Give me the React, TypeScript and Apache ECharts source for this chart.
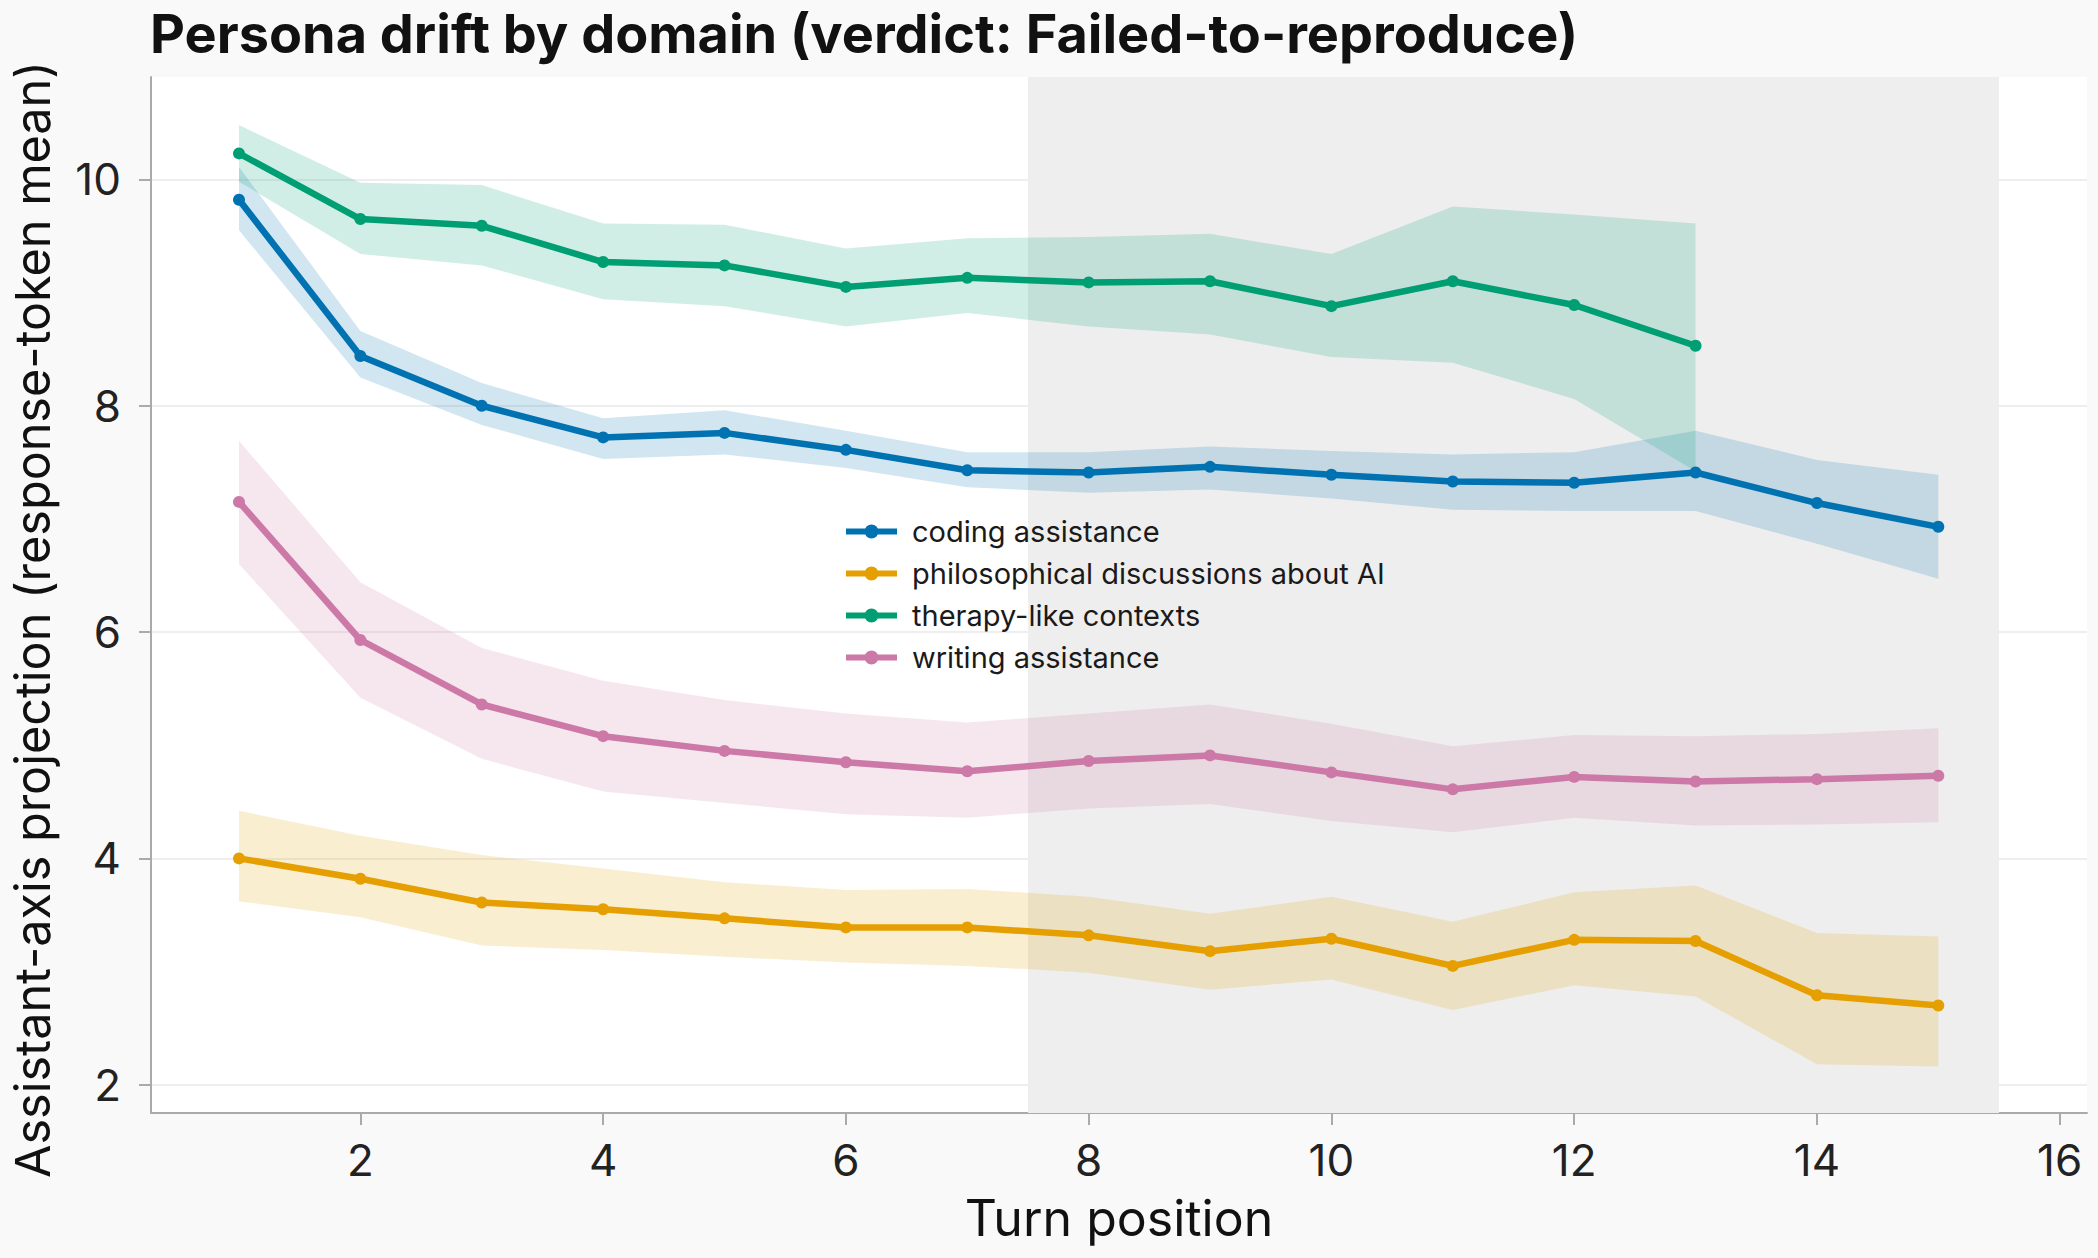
import React, { useEffect, useRef } from "react";
import * as echarts from "echarts";

const turns = [1, 2, 3, 4, 5, 6, 7, 8, 9, 10, 11, 12, 13, 14, 15];
const xTicks = [2, 4, 6, 8, 10, 12, 14, 16];
const yTicks = [2, 4, 6, 8, 10];

const domainNames = [
  "coding assistance",
  "philosophical discussions about AI",
  "therapy-like contexts",
  "writing assistance",
];
const domainColors = ["#0072B2", "#E69F00", "#009E73", "#CC79A7"];

const codingMean = [9.82, 8.44, 8.0, 7.72, 7.76, 7.61, 7.43, 7.41, 7.46, 7.39, 7.33, 7.32, 7.41, 7.14, 6.93];
const codingLo = [9.55, 8.25, 7.83, 7.53, 7.57, 7.45, 7.28, 7.23, 7.26, 7.18, 7.08, 7.07, 7.07, 6.78, 6.47];
const codingHi = [10.11, 8.66, 8.2, 7.89, 7.96, 7.78, 7.59, 7.59, 7.64, 7.6, 7.57, 7.59, 7.78, 7.52, 7.39];

const philoMean = [4.0, 3.82, 3.61, 3.55, 3.47, 3.39, 3.39, 3.32, 3.18, 3.29, 3.05, 3.28, 3.27, 2.79, 2.7];
const philoLo = [3.62, 3.48, 3.23, 3.19, 3.13, 3.08, 3.05, 2.99, 2.84, 2.93, 2.66, 2.88, 2.78, 2.18, 2.16];
const philoHi = [4.42, 4.2, 4.03, 3.91, 3.79, 3.72, 3.73, 3.66, 3.51, 3.66, 3.44, 3.7, 3.76, 3.34, 3.31];

const therapyMean = [10.23, 9.65, 9.59, 9.27, 9.24, 9.05, 9.13, 9.09, 9.1, 8.88, 9.1, 8.89, 8.53];
const therapyLo = [9.98, 9.34, 9.24, 8.94, 8.88, 8.7, 8.82, 8.7, 8.63, 8.43, 8.38, 8.06, 7.42];
const therapyHi = [10.48, 9.97, 9.95, 9.61, 9.6, 9.39, 9.48, 9.49, 9.52, 9.34, 9.76, 9.69, 9.61];

const writingMean = [7.15, 5.93, 5.36, 5.08, 4.95, 4.85, 4.77, 4.86, 4.91, 4.76, 4.61, 4.72, 4.68, 4.7, 4.73];
const writingLo = [6.6, 5.42, 4.88, 4.59, 4.49, 4.39, 4.36, 4.44, 4.48, 4.33, 4.23, 4.36, 4.29, 4.3, 4.32];
const writingHi = [7.69, 6.44, 5.86, 5.57, 5.4, 5.28, 5.2, 5.28, 5.36, 5.19, 4.99, 5.09, 5.08, 5.1, 5.15];

const spanStart = 7.5;
const spanEnd = 15.5;

const FONT = "Inter";
const LEGEND_ICON =
  "path://M0,4h51v6h-51z M18.5,7a7,7 0 1,1 14,0a7,7 0 1,1 -14,0z";

export default function App() {
  const ref = useRef<HTMLDivElement>(null);

  useEffect(() => {
    const chart = echarts.init(ref.current!, null, { renderer: "svg" });

    const domains = [
      { mean: codingMean, lo: codingLo, hi: codingHi },
      { mean: philoMean, lo: philoLo, hi: philoHi },
      { mean: therapyMean, lo: therapyLo, hi: therapyHi },
      { mean: writingMean, lo: writingLo, hi: writingHi },
    ];

    const series: any[] = [
      {
        type: "line",
        name: "__bg",
        data: [],
        silent: true,
        markLine: {
          silent: true,
          z: 0,
          symbol: "none",
          label: { show: false },
          lineStyle: { color: "#e8e8e8", width: 1.5, type: "solid" },
          emphasis: { disabled: true },
          data: yTicks.map((v) => ({ yAxis: v })),
        },
        markArea: {
          silent: true,
          z: 1,
          itemStyle: { color: "#eeeeee" },
          emphasis: { disabled: true },
          data: [[{ xAxis: spanStart }, { xAxis: spanEnd }]],
        },
      },
    ];

    domains.forEach((d, i) => {
      const color = domainColors[i];
      const n = d.mean.length;
      series.push({
        type: "custom",
        name: domainNames[i] + " band",
        data: d.lo.map((v, j) => [turns[j], v, d.hi[j]]),
        encode: { x: 0, y: [1, 2] },
        silent: true,
        z: 2,
        renderItem: (params: any, api: any) => {
          if (params.dataIndex !== 0) return null;
          const pts: number[][] = [];
          for (let j = 0; j < n; j++) pts.push(api.coord([turns[j], d.hi[j]]));
          for (let j = n - 1; j >= 0; j--) pts.push(api.coord([turns[j], d.lo[j]]));
          return {
            type: "polygon",
            shape: { points: pts },
            style: { fill: color, opacity: 0.18 },
          };
        },
      });
      series.push({
        type: "line",
        name: domainNames[i],
        data: d.mean.map((v, j) => [turns[j], v]),
        color,
        symbol: "circle",
        symbolSize: 12,
        showSymbol: true,
        itemStyle: { color },
        lineStyle: { color, width: 6.5 },
        z: 3,
      });
    });

    const option: any = {
      animation: false,
      backgroundColor: "#f9f9f9",
      title: {
        text: "Persona drift by domain (verdict: Failed-to-reproduce)",
        left: 150,
        top: 6,
        padding: 0,
        textStyle: { fontSize: 54, fontWeight: "bold", fontFamily: FONT, color: "#111" },
      },
      legend: {
        orient: "vertical",
        left: 846,
        top: 517,
        padding: 0,
        itemWidth: 51,
        itemHeight: 14,
        itemGap: 13,
        icon: LEGEND_ICON,
        data: domainNames,
        textStyle: { fontSize: 29, fontFamily: FONT, color: "#1a1a1a", padding: [0, 0, 0, 10] },
      },
      grid: {
        left: 150,
        right: 11,
        top: 77,
        bottom: 145,
        show: true,
        backgroundColor: "#ffffff",
        borderWidth: 0,
      },
      xAxis: {
        type: "value",
        min: 0.275,
        max: 16.225,
        name: "Turn position",
        nameLocation: "middle",
        nameGap: 80,
        nameTextStyle: { fontSize: 50, fontFamily: FONT, color: "#111" },
        axisLine: { show: true, onZero: false, lineStyle: { color: "#aaaaaa", width: 2 } },
        axisTick: { show: true, length: 12, lineStyle: { color: "#aaaaaa", width: 2 }, customValues: xTicks },
        axisLabel: { customValues: xTicks, fontSize: 44, fontFamily: FONT, color: "#222", margin: 25 },
        splitLine: { show: false },
      },
      yAxis: {
        type: "value",
        min: 1.75,
        max: 10.905,
        name: "Assistant-axis projection (response-token mean)",
        nameLocation: "middle",
        nameGap: 94,
        nameTextStyle: {
          fontSize: 48.5,
          fontFamily: FONT,
          color: "#111",
          padding: [0, 49, 0, 0],
        },
        axisLine: { show: true, onZero: false, lineStyle: { color: "#aaaaaa", width: 2 } },
        axisTick: { show: true, length: 12, lineStyle: { color: "#aaaaaa", width: 2 }, customValues: yTicks },
        axisLabel: { customValues: yTicks, fontSize: 44, fontFamily: FONT, color: "#222", margin: 30 },
        splitLine: { show: false },
      },
      series,
    };

    chart.setOption(option);
    return () => chart.dispose();
  }, []);

  return (
    <div
      ref={ref}
      style={{ position: "fixed", left: 0, top: 0, width: 2098, height: 1258 }}
    />
  );
}
